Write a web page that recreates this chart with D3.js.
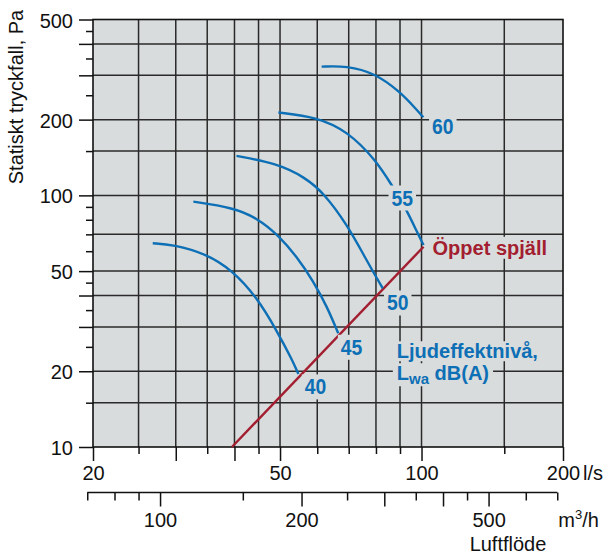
<!DOCTYPE html>
<html>
<head>
<meta charset="utf-8">
<script src="https://cdn.jsdelivr.net/npm/d3@7"></script>
<style>
    body { margin: 0; background: #fff; }
    text { font-family: "Liberation Sans", Arial, Helvetica, sans-serif; }
</style>
</head>
<body>
<svg id="chart" width="610" height="555"></svg>
<script>
// flow in l/s (bottom axis) and m3/h (second axis), pressure in Pa
var flowLabels = [20, 50, 100, 200];
var flowMajor = [20, 30, 40, 50, 100, 200];
var flowMinor = [25, 35, 45, 60, 70, 80, 90, 150];
var flowGrid = [25, 30, 35, 40, 45, 50, 60, 70, 80, 90, 100, 150];

var m3Labels = [100, 200, 500];
var m3Major = [100, 200, 300, 400, 500];
var m3Minor = [70, 80, 90, 150, 250, 350, 450, 600, 700];

var pressureLabels = [10, 20, 50, 100, 200, 500];
var pressureMajor = [10, 20, 30, 40, 50, 100, 200, 300, 400, 500];
var pressureMinor = [15, 25, 35, 45, 60, 70, 80, 90, 150, 250, 350, 450];
var pressureGrid = [15, 20, 30, 40, 50, 70, 100, 150, 200, 300, 400];

// sound power level curves, [flow l/s, pressure Pa]
var soundLevels = [40, 45, 50, 55, 60];
var curve40 = [[26.8, 64.5], [29.6, 63.8], [34.9, 58.5], [39.5, 50.5], [44.6, 39.5], [49.2, 29], [53, 22.3], [54.7, 19.5]];
var curve45 = [[32.7, 94.4], [39.6, 89.5], [44.6, 81.5], [49.6, 69.5], [54.3, 57], [58.9, 45.5], [63, 36], [66.5, 28.3]];
var curve50 = [[40.4, 143.5], [49.2, 134], [56.5, 118], [62, 102], [69.3, 77], [76.5, 55], [80, 47.5], [82.7, 42.7]];
var curve55 = [[49.6, 213.6], [59.8, 205], [69.6, 180], [80, 138], [86.4, 110], [93, 87.5], [98, 71], [101, 63.5]];
var curve60 = [[61.3, 324.8], [69.3, 327.5], [79.6, 306], [90, 258], [97, 222], [100.9, 204.4]];
// where the level numbers sit (flow, pressure)
var levelLabelAt = [[59.5, 17.4], [71, 25], [89, 37.5], [91, 98], [111, 188]];

// fully open damper line
var openDamper = [[39.5, 10], [101, 62.5]];

var BLUE = '#0d6fb5';
var RED = '#a21e30';
var BG = '#d9dcdc';

function PressureChart()
{
    var self = this;
    self.init();
    self.update();
}

PressureChart.prototype.init = function()
{
    var self = this;
    self.svg = d3.select('#chart');

    self.x = d3.scaleLog().domain([20, 200]).range([93, 563]);
    self.xm = d3.scaleLog().domain([20 * 3.6, 200 * 3.6]).range([93, 563]);
    self.y = d3.scaleLog().domain([10, 500]).range([447, 19.5]);
};

// text with a background box that cuts the grid lines
PressureChart.prototype.boxedText = function(g, txt, padX, padY)
{
    var b = txt.node().getBBox();
    g.insert('rect', function() { return txt.node(); })
        .attr('x', b.x - padX)
        .attr('y', b.y - padY + 2)
        .attr('width', b.width + 2 * padX)
        .attr('height', b.height + 2 * padY - 4)
        .attr('fill', BG);
};

PressureChart.prototype.update = function()
{
    var self = this;
    var x = self.x, y = self.y, xm = self.xm;
    var x0 = x.range()[0], x1 = x.range()[1];
    var y0 = y.range()[0], y1 = y.range()[1];

    // plot background
    self.svg.append('rect')
        .attr('x', x0).attr('y', y1)
        .attr('width', x1 - x0).attr('height', y0 - y1)
        .attr('fill', BG);

    // grid
    var grid = self.svg.append('g').attr('stroke', '#2a2a2a').attr('stroke-width', 1.5);
    grid.selectAll('.vg').data(flowGrid).enter().append('line')
        .attr('x1', function(d) { return x(d); })
        .attr('x2', function(d) { return x(d); })
        .attr('y1', y0).attr('y2', y1);
    grid.selectAll('.hg').data(pressureGrid).enter().append('line')
        .attr('y1', function(d) { return y(d); })
        .attr('y2', function(d) { return y(d); })
        .attr('x1', x0).attr('x2', x1);

    // frame
    self.svg.append('rect')
        .attr('x', x0).attr('y', y1)
        .attr('width', x1 - x0).attr('height', y0 - y1)
        .attr('fill', 'none').attr('stroke', '#111').attr('stroke-width', 1.6);

    // axes
    function styleAxis(g) {
        g.select('.domain').remove();
        g.attr('font-size', 20).attr('font-family', '"Liberation Sans", Arial, sans-serif');
        g.selectAll('.tick line').attr('stroke', '#111').attr('stroke-width', 1.5);
        g.selectAll('.tick text').attr('fill', '#111');
    }

    self.svg.append('g')
        .attr('transform', 'translate(' + x0 + ',0)')
        .call(d3.axisLeft(y).tickValues(pressureMajor).tickSize(14).tickPadding(6)
            .tickFormat(function(d) { return pressureLabels.indexOf(d) >= 0 ? d : ''; }))
        .call(styleAxis)
        .selectAll('.tick text').attr('dy', '0.38em');
    self.svg.append('g')
        .attr('transform', 'translate(' + x0 + ',0)')
        .call(d3.axisLeft(y).tickValues(pressureMinor).tickSize(7).tickFormat(''))
        .call(styleAxis);

    self.svg.append('g')
        .attr('transform', 'translate(0,' + y0 + ')')
        .call(d3.axisBottom(x).tickValues(flowMajor).tickSize(14).tickPadding(5)
            .tickFormat(function(d) { return flowLabels.indexOf(d) >= 0 ? d : ''; }))
        .call(styleAxis);
    self.svg.append('g')
        .attr('transform', 'translate(0,' + y0 + ')')
        .call(d3.axisBottom(x).tickValues(flowMinor).tickSize(7).tickFormat(''))
        .call(styleAxis);

    self.svg.append('text')
        .attr('x', x(200) + 20).attr('y', 480)
        .attr('font-size', 20).attr('fill', '#111')
        .text('l/s');

    // second flow axis in m3/h
    var ym = 492.5;
    self.svg.append('line')
        .attr('x1', xm(70)).attr('x2', xm(700))
        .attr('y1', ym).attr('y2', ym)
        .attr('stroke', '#111').attr('stroke-width', 1.5);
    self.svg.append('g')
        .attr('transform', 'translate(0,' + ym + ')')
        .call(d3.axisBottom(xm).tickValues(m3Major).tickSize(14).tickPadding(6)
            .tickFormat(function(d) { return m3Labels.indexOf(d) >= 0 ? d : ''; }))
        .call(styleAxis);
    self.svg.append('g')
        .attr('transform', 'translate(0,' + ym + ')')
        .call(d3.axisBottom(xm).tickValues(m3Minor).tickSize(8).tickFormat(''))
        .call(styleAxis);

    var unit = self.svg.append('text')
        .attr('x', xm(700) + 1).attr('y', 527)
        .attr('font-size', 20).attr('fill', '#111');
    unit.append('tspan').text('m');
    unit.append('tspan').attr('font-size', 13).attr('dy', -8).text('3');
    unit.append('tspan').attr('dy', 8).text('/h');

    self.svg.append('text')
        .attr('x', 508).attr('y', 551)
        .attr('text-anchor', 'middle')
        .attr('font-size', 20).attr('fill', '#111')
        .text('Luftflöde');

    self.svg.append('text')
        .attr('transform', 'translate(23,97) rotate(-90)')
        .attr('text-anchor', 'middle')
        .attr('font-size', 20).attr('fill', '#111')
        .text('Statiskt tryckfall, Pa');

    // curves
    var line = d3.line()
        .x(function(d) { return x(d[0]); })
        .y(function(d) { return y(d[1]); })
        .curve(d3.curveBasis);

    self.svg.append('path')
        .attr('d', line(openDamper))
        .attr('fill', 'none').attr('stroke', RED).attr('stroke-width', 2.4);

    var curves = [curve40, curve45, curve50, curve55, curve60];
    self.svg.selectAll('.level').data(curves).enter().append('path')
        .attr('class', 'level')
        .attr('d', line)
        .attr('fill', 'none').attr('stroke', BLUE).attr('stroke-width', 2.4);

    // labels
    var labels = self.svg.append('g');
    soundLevels.forEach(function(lv, i) {
        var g = labels.append('g');
        var t = g.append('text')
            .attr('x', x(levelLabelAt[i][0]))
            .attr('y', y(levelLabelAt[i][1]))
            .attr('dy', '0.36em')
            .attr('text-anchor', 'middle')
            .attr('font-size', 22).attr('font-weight', 'bold')
            .attr('textLength', 21.5).attr('lengthAdjust', 'spacingAndGlyphs')
            .attr('fill', BLUE)
            .text(lv);
        self.boxedText(g, t, 3, 2);
    });

    var end = openDamper[openDamper.length - 1];
    var rg = labels.append('g');
    var rt = rg.append('text')
        .attr('x', x(end[0]) + 9).attr('y', y(end[1]) + 8)
        .attr('font-size', 20).attr('font-weight', 'bold')
        .attr('fill', RED)
        .text('Öppet spjäll');
    self.boxedText(rg, rt, 3, 2);

    var ng = labels.append('g');
    var nx = x(88.6), ny = y(20);
    var n1 = ng.append('text')
        .attr('x', nx).attr('y', ny - 13)
        .attr('font-size', 20).attr('font-weight', 'bold').attr('fill', BLUE)
        .text('Ljudeffektnivå,');
    self.boxedText(ng, n1, 4, 1);
    var n2 = ng.append('text')
        .attr('x', nx).attr('y', ny + 9)
        .attr('font-size', 20).attr('font-weight', 'bold').attr('fill', BLUE);
    n2.append('tspan').text('L');
    n2.append('tspan').attr('font-size', 15).attr('dy', 4).text('wa');
    n2.append('tspan').attr('dy', -4).text(' dB(A)');
    self.boxedText(ng, n2, 4, 1);
};

var chart = new PressureChart();
</script>
</body>
</html>
